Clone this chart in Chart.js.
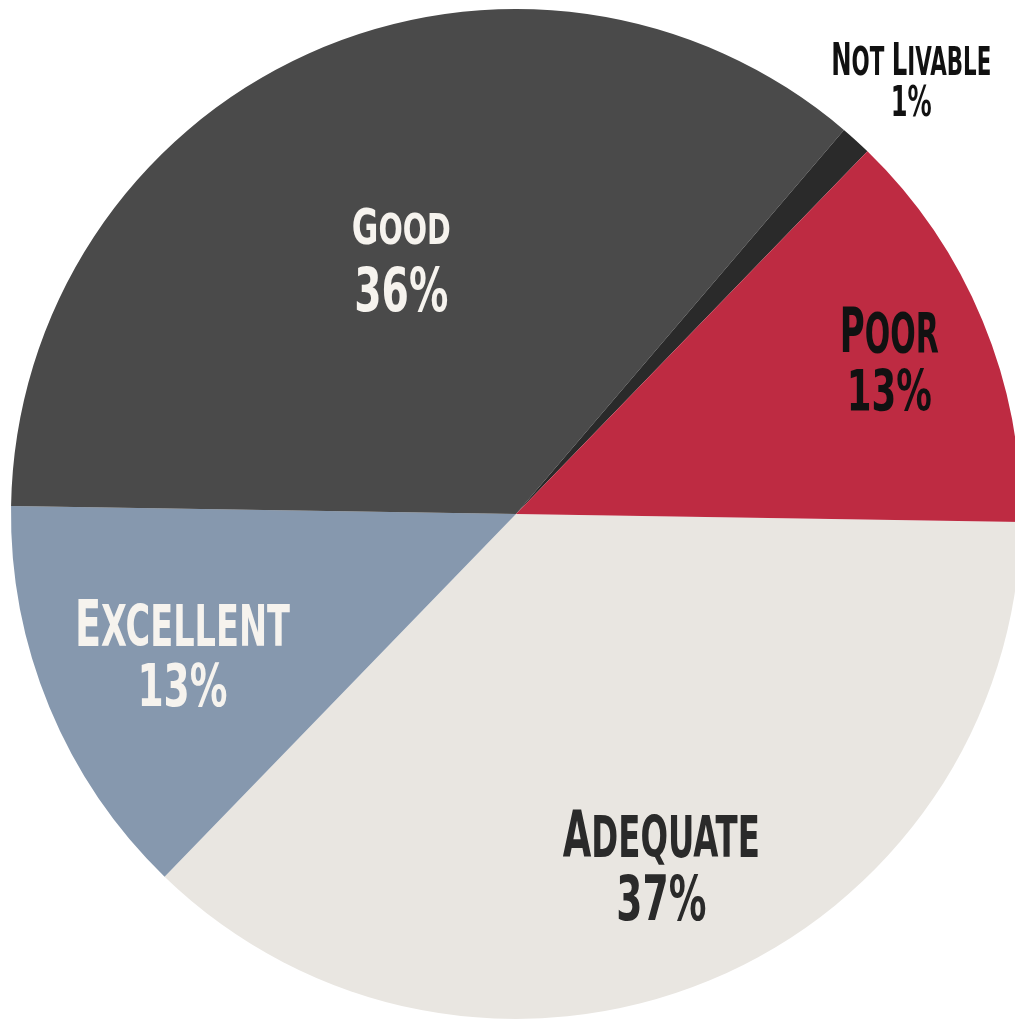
<!DOCTYPE html>
<html>
<head>
<meta charset="utf-8">
<script src="https://cdn.jsdelivr.net/npm/chart.js@4"></script>
<style>
  html, body { margin: 0; padding: 0; background: #ffffff; overflow: hidden; }
  #wrap { position: absolute; left: 0; top: 0; width: 1032px; height: 1028px; }
</style>
</head>
<body>
<div id="wrap"><canvas id="pie"></canvas></div>
<script>
// data (clockwise from just below 3 o'clock)
const categories = ['Adequate', 'Excellent', 'Good', 'Not Livable', 'Poor'];
const shares = [37, 13, 36, 1, 13];
const sliceColors = ['#e9e6e1', '#8698ae', '#4a4a4a', '#2a2a2a', '#be2b42'];

// label look, one entry per slice
const labelColors = ['#2a2a2a', '#f6f3ee', '#f6f3ee', '#111111', '#111111'];
const labelRadius = [0.752, 0.715, 0.552, 1.163, 0.80];   // fraction of radius along mid angle
const labelCap = [47, 47, 36, 32, 45];                     // cap height of name
const labelPctCap = [45, 43, 44, 31, 42];                  // cap height of % line
const labelGap = [63, 60, 67, 41, 59];                     // baseline to baseline
const labelNameW = [197, 215, 99, 160, 99];
const labelPctW = [90, 90, 94, 41, 85];

const FONT = "'Liberation Sans Narrow', 'DejaVu Sans Condensed', 'Liberation Sans', sans-serif";

function fontForCap(ctx, cap) {
    ctx.font = 'bold 100px ' + FONT;
    const asc = ctx.measureText('H').actualBoundingBoxAscent || 72;
    return cap * 100 / asc;
}

// small caps by hand: first letter of each word big, rest smaller
function smallCapsRuns(ctx, text, cap) {
    const big = fontForCap(ctx, cap);
    const small = fontForCap(ctx, cap * 0.88);
    const runs = [];
    text.split(' ').forEach((w, i) => {
        if (i > 0) runs.push({ t: ' ', size: small });
        runs.push({ t: w[0].toUpperCase(), size: big });
        if (w.length > 1) runs.push({ t: w.slice(1).toUpperCase(), size: small });
    });
    let total = 0;
    runs.forEach(r => {
        ctx.font = 'bold ' + r.size + 'px ' + FONT;
        r.w = ctx.measureText(r.t).width;
        total += r.w;
    });
    return { runs, total };
}

function drawRuns(ctx, runs, total, cx, baseline, targetW) {
    const sx = targetW / total;
    ctx.save();
    ctx.translate(cx - targetW / 2, baseline);
    ctx.scale(sx, 1);
    let x = 0;
    runs.forEach(r => {
        ctx.font = 'bold ' + r.size + 'px ' + FONT;
        ctx.fillText(r.t, x, 0);
        x += r.w;
    });
    ctx.restore();
}

const sliceLabels = {
    id: 'sliceLabels',
    afterDatasetsDraw(chart) {
        const ctx = chart.ctx;
        const arcs = chart.getDatasetMeta(0).data;
        ctx.save();
        ctx.textBaseline = 'alphabetic';
        ctx.textAlign = 'left';
        arcs.forEach((arc, i) => {
            const p = arc.getProps(['x', 'y', 'startAngle', 'endAngle', 'outerRadius'], true);
            const mid = (p.startAngle + p.endAngle) / 2;
            const cx = p.x + Math.cos(mid) * p.outerRadius * labelRadius[i];
            const cy = p.y + Math.sin(mid) * p.outerRadius * labelRadius[i];
            const base1 = cy - (labelGap[i] - labelCap[i]) / 2;
            const base2 = base1 + labelGap[i];
            ctx.fillStyle = labelColors[i];

            const name = smallCapsRuns(ctx, categories[i], labelCap[i]);
            drawRuns(ctx, name.runs, name.total, cx, base1, labelNameW[i]);

            const pSize = fontForCap(ctx, labelPctCap[i]);
            ctx.font = 'bold ' + pSize + 'px ' + FONT;
            const pct = shares[i] + '%';
            const pw = ctx.measureText(pct).width;
            drawRuns(ctx, [{ t: pct, size: pSize, w: pw }], pw, cx, base2, labelPctW[i]);
        });
        ctx.restore();
    }
};

new Chart(document.getElementById('pie'), {
    type: 'pie',
    data: {
        labels: categories,
        datasets: [{
            data: shares,
            backgroundColor: sliceColors,
            borderWidth: 0
        }]
    },
    options: {
        responsive: true,
        maintainAspectRatio: false,
        devicePixelRatio: 1,
        animation: false,
        rotation: 90.9,
        layout: { padding: 9 },
        plugins: {
            legend: { display: false },
            tooltip: { enabled: false }
        }
    },
    plugins: [sliceLabels]
});
</script>
</body>
</html>
